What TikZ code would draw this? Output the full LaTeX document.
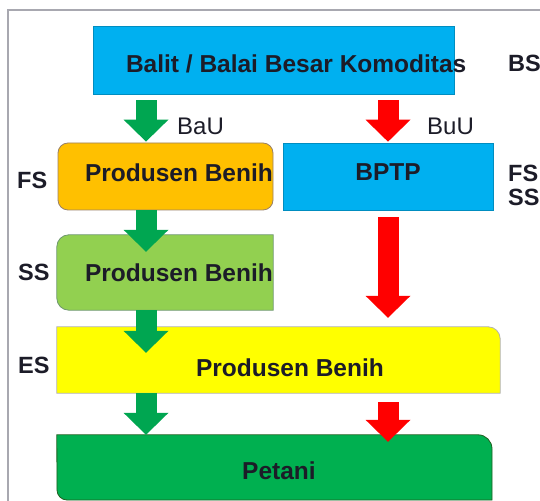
\documentclass[tikz,border=0pt]{standalone}
\usepackage{fontspec}
\setmainfont{Liberation Sans}
\usepackage{xcolor}
\usetikzlibrary{positioning}
\usetikzlibrary{arrows.meta}
\usetikzlibrary{backgrounds}

\definecolor{balaiblue}{HTML}{00B0F0}
\definecolor{benihorange}{HTML}{FFC000}
\definecolor{benihlime}{HTML}{92D050}
\definecolor{benihyellow}{HTML}{FFFF00}
\definecolor{petanigreen}{HTML}{00B050}
\definecolor{flowgreen}{HTML}{00A651}
\definecolor{flowred}{HTML}{FF0000}
\definecolor{inkdark}{HTML}{1C1C28}
\definecolor{framegray}{HTML}{A8A8B0}

\begin{document}
\begin{tikzpicture}[x=1pt, y=1pt,
    box/.style={inner sep=0pt, text=inkdark, text height=17.5pt, text depth=0pt,
        font=\bfseries\fontsize{24.5}{28}\selectfont},
    edge/.style={draw=gray!60, line width=0.8pt},
    side/.style={anchor=west, inner sep=0pt, text=inkdark, align=left,
        font=\bfseries\fontsize{23.5}{24}\selectfont},
    tag/.style={anchor=west, inner sep=0pt, text=inkdark,
        font=\fontsize{24}{28}\selectfont},
    flow/.style={line width=21pt,
        -{Triangle[length=22pt, width=45pt, line width=0pt]}}]

    \useasboundingbox (0,0) rectangle (540,500);

    % Nodes
    \node[box, fill=balaiblue, draw=balaiblue!80!black, line width=0.6pt,
        minimum width=361pt, minimum height=68pt, text height=24.5pt] (balit) at (273.5,440)
        {\makebox[361pt][l]{\hspace{33pt}Balit / Balai Besar Komoditas}};
    \node[box, fill=benihorange, draw=gray!60!brown, line width=0.8pt, rounded corners=10pt,
        minimum width=215pt, minimum height=67pt, text depth=7pt] (fs) at (165.5,323.5)
        {\makebox[215pt][l]{\hspace{27pt}Produsen Benih}};
    \node[box, fill=balaiblue, draw=balaiblue!80!black, line width=0.6pt,
        minimum width=210pt, minimum height=67pt, text depth=9pt] (bptp) at (388,323.5) {BPTP};
    \node[box, minimum width=216pt, minimum height=75pt] (ss) at (165,227.5)
        {\makebox[216pt][l]{\hspace{28pt}Produsen Benih}};
    \node[box, minimum width=443pt, minimum height=66pt, text height=33.5pt] (es) at (278.5,140)
        {\makebox[443pt][l]{\hspace{139pt}Produsen Benih}};
    \node[box, minimum width=435pt, minimum height=65pt, text height=24.5pt] (petani) at (279,32.5) {Petani};

    % Side labels
    \node[side] (bs) at (508,436.5) {BS};
    \node[tag] (bau) at (177,374) {BaU};
    \node[tag] (buu) at (427,374) {BuU};
    \node[side] (fsl) at (17,320) {FS};
    \node[side] (ssl) at (18,228) {SS};
    \node[side] (esl) at (18,135) {ES};
    \node[side] (fsss) at (508,315) {FS\\SS};

    % Box shapes
    \begin{scope}[on background layer]
        \fill[white] (0,0) rectangle (540,500);
        \draw[framegray, line width=1.5pt] (8,-20) |- (560,490);
        \filldraw[edge, draw=gray!60!green!60!black!70, fill=benihlime] (ss.north east) -- ([xshift=12pt]ss.north west)
            arc[start angle=90, end angle=180, radius=12pt] -- ([yshift=12pt]ss.south west)
            arc[start angle=180, end angle=270, radius=12pt] -- (ss.south east) -- cycle;
        \filldraw[edge, fill=benihyellow] (es.south west) -- (es.north west) -- ([xshift=-12pt]es.north east)
            arc[start angle=90, end angle=0, radius=12pt] -- (es.south east) -- cycle;
        \filldraw[edge, draw=gray!50!green!50!black, fill=petanigreen] (petani.north west -| es.west)
            -- ([xshift=-14pt]petani.north east -| 492,0)
            arc[start angle=90, end angle=0, radius=14pt] -- (492,0) -- (67,0)
            arc[start angle=270, end angle=180, radius=10pt] -- cycle;
    \end{scope}

    % Edges
    \coordinate (gcol) at (146,0);
    \draw[flow, flowgreen, shorten <=6pt, shorten >=1pt] (balit.south -| gcol) -- (fs.north -| gcol);
    \draw[flow, flowred, shorten <=6pt, shorten >=1pt] (balit.south -| bptp) -- (bptp.north);
    \draw[flow, flowgreen, shorten >=-17pt] (fs.south -| gcol) -- (ss.north -| gcol);
    \draw[flow, flowred, shorten <=7pt, shorten >=9pt] (bptp.south) -- (es.north -| bptp);
    \draw[flow, flowgreen, shorten >=-26pt] (ss.south -| gcol) -- (es.north -| gcol);
    \draw[flow, flowgreen] (es.south -| gcol) -- (petani.north -| gcol);
    \draw[flow, flowred, shorten <=9pt, shorten >=-7pt] (es.south -| bptp) -- (petani.north -| bptp);
\end{tikzpicture}
\end{document}
